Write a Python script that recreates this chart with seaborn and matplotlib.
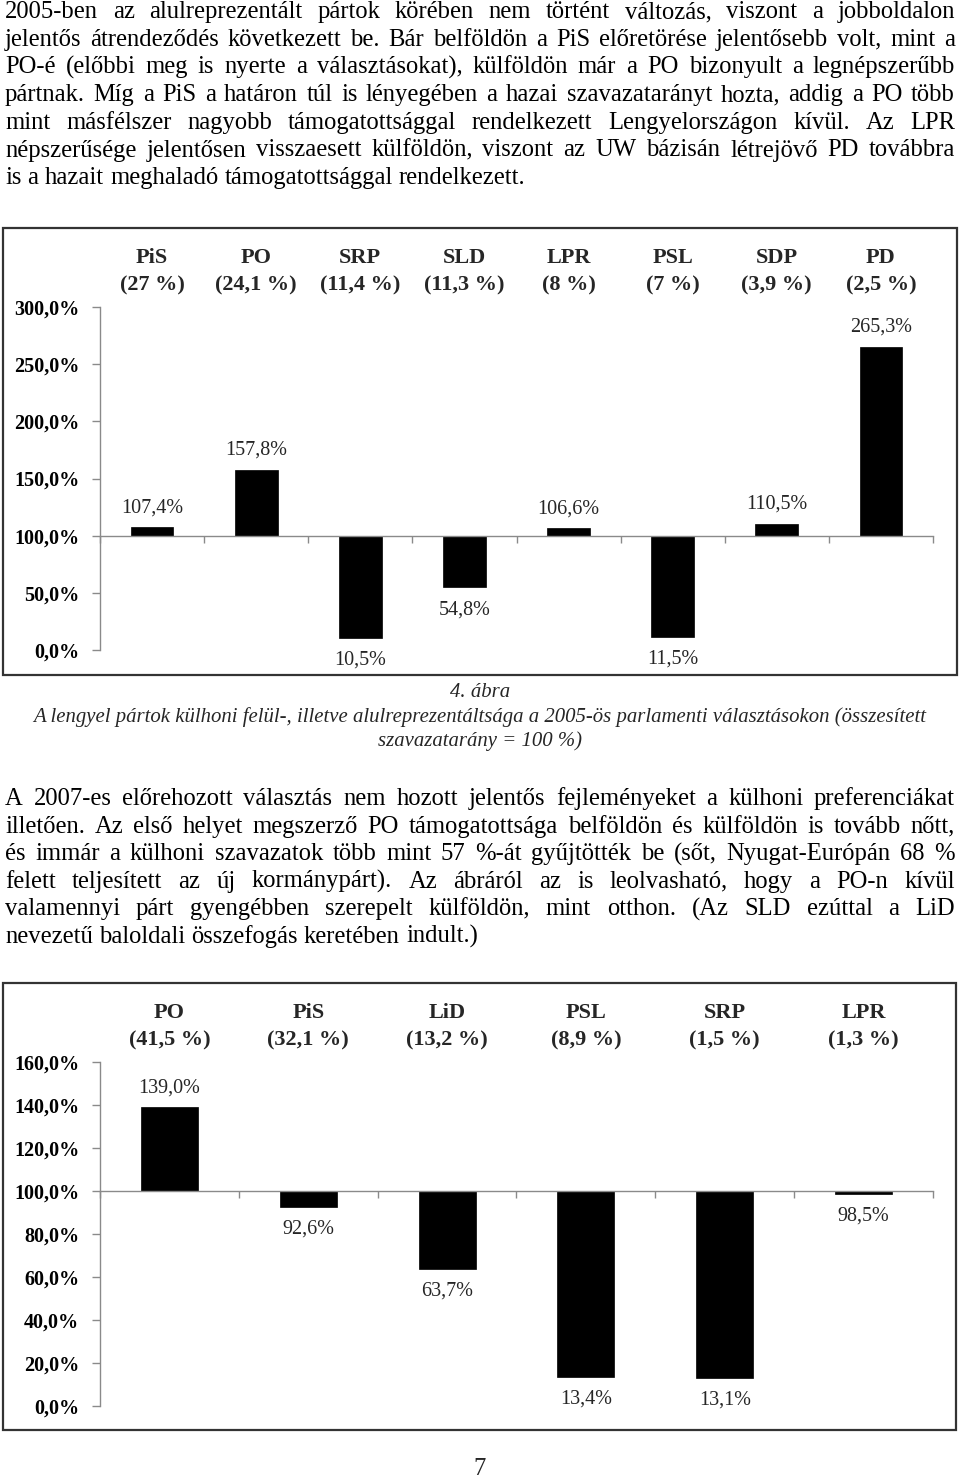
import numpy as np
import pandas as pd
import seaborn as sns
import matplotlib.pyplot as plt
from matplotlib.patches import Rectangle
from matplotlib.ticker import FuncFormatter

W, H = 960, 1480

# 2005 chart data
parties_2005 = ["PiS", "PO", "SRP", "SLD", "LPR", "PSL", "SDP", "PD"]
shares_2005 = ["27", "24,1", "11,4", "11,3", "8", "7", "3,9", "2,5"]
values_2005 = [107.4, 157.8, 10.5, 54.8, 106.6, 11.5, 110.5, 265.3]
yticks_2005 = [0, 50, 100, 150, 200, 250, 300]

# 2007 chart data
parties_2007 = ["PO", "PiS", "LiD", "PSL", "SRP", "LPR"]
shares_2007 = ["41,5", "32,1", "13,2", "8,9", "1,5", "1,3"]
values_2007 = [139.0, 92.6, 63.7, 13.4, 13.1, 98.5]
yticks_2007 = [0, 20, 40, 60, 80, 100, 120, 140, 160]

para1 = [
    "2005-ben az alulreprezentált pártok körében nem történt változás, viszont a jobboldalon",
    "jelentős átrendeződés következett be. Bár belföldön a PiS előretörése jelentősebb volt, mint a",
    "PO-é (előbbi meg is nyerte a választásokat), külföldön már a PO bizonyult a legnépszerűbb",
    "pártnak. Míg a PiS a határon túl is lényegében a hazai szavazatarányt hozta, addig a PO több",
    "mint másfélszer nagyobb támogatottsággal rendelkezett Lengyelországon kívül. Az LPR",
    "népszerűsége jelentősen visszaesett külföldön, viszont az UW bázisán létrejövő PD továbbra",
    "is a hazait meghaladó támogatottsággal rendelkezett.",
]
caption = [
    "4. ábra",
    "A lengyel pártok külhoni felül-, illetve alulreprezentáltsága a 2005-ös parlamenti választásokon (összesített",
    "szavazatarány = 100 %)",
]
para2 = [
    "A 2007-es előrehozott választás nem hozott jelentős fejleményeket a külhoni preferenciákat",
    "illetően. Az első helyet megszerző PO támogatottsága belföldön és külföldön is tovább nőtt,",
    "és immár a külhoni szavazatok  több mint 57 %-át gyűjtötték be (sőt, Nyugat-Európán 68 %",
    "felett teljesített az új kormánypárt). Az ábráról az is leolvasható, hogy a PO-n kívül",
    "valamennyi párt gyengébben szerepelt külföldön, mint otthon. (Az SLD ezúttal a LiD",
    "nevezetű baloldali összefogás keretében indult.)",
]

sns.set_theme(style="white")
plt.rcParams["font.family"] = "Liberation Serif"

fig = plt.figure(figsize=(9.6, 14.8), dpi=100)
r = fig.canvas.get_renderer()


def text_width(s, size, **kw):
    t = fig.text(0, 0, s, fontsize=size, **kw)
    w = t.get_window_extent(r).width
    t.remove()
    return w


def justified(lines, x0, x1, base0, step, size):
    space = size * 100 / 72 * 0.25
    for k, line in enumerate(lines):
        words = line.split()
        arts = [fig.text(0, 1 - (base0 + k * step) / H, w, fontsize=size,
                         va="baseline", ha="left", color="black") for w in words]
        widths = [a.get_window_extent(r).width for a in arts]
        if k == len(lines) - 1:
            gap = space
        else:
            gap = (x1 - x0 - sum(widths)) / (len(words) - 1)
        x = x0
        for a, w in zip(arts, widths):
            a.set_x(x / W)
            x += w + gap


# body text size fitted to the unjustified last lines
s1 = 10 * 520 / text_width(para1[-1], 10)
s2 = 10 * 475 / text_width(para2[-1], 10)
body = (s1 + s2) / 2

justified(para1, 5, 955, 18, 27.7, body)
justified(para2, 5, 955, 805, 27.6, body)

cap_size = 10 * 895 / text_width(caption[1], 10, style="italic")
for k, line in enumerate(caption):
    fig.text(0.5, 1 - (697 + k * 24.5) / H, line, fontsize=cap_size, style="italic",
             ha="center", va="baseline")

fig.text(0.5, 1 - 1475 / H, "7", fontsize=body, ha="center", va="baseline")

gray = "#8a8a8a"
pct = FuncFormatter(lambda v, p: f"{v:.1f}%".replace(".", ","))


def draw_chart(frame, rect, parties, shares, values, yticks):
    fx0, fy0, fx1, fy1 = frame
    fig.add_artist(Rectangle((fx0 / W, 1 - fy1 / H), (fx1 - fx0) / W, (fy1 - fy0) / H,
                             transform=fig.transFigure, fill=False, ec="#333333", lw=1.6))
    ax = fig.add_axes(rect)
    df = pd.DataFrame({"party": parties, "dev": [v - 100 for v in values]})
    sns.barplot(data=df, x="party", y="dev", bottom=100, color="black", saturation=1,
                width=0.41, errorbar=None, ax=ax, edgecolor="black", linewidth=0.5)
    n = len(parties)
    ax.set_xlim(-0.5, n - 0.5)
    ax.set_ylim(yticks[0], yticks[-1])
    ax.set_xlabel("")
    ax.set_ylabel("")
    ax.set_facecolor("none")
    for s in ["top", "right"]:
        ax.spines[s].set_visible(False)
    ax.spines["bottom"].set_position(("data", 100))
    ax.spines["bottom"].set_color(gray)
    ax.spines["left"].set_color(gray)
    ax.spines["bottom"].set_linewidth(1)
    ax.spines["left"].set_linewidth(1)

    ax.set_xticks(range(n))
    ax.set_xticklabels([f"{p}\n({s} %)" for p, s in zip(parties, shares)],
                       fontsize=16, fontweight="bold", linespacing=1.55)
    ax.set_xticks(np.arange(-0.5, n), minor=True)
    ax.tick_params(axis="x", which="major", bottom=False, top=False,
                   labelbottom=False, labeltop=True, pad=2)
    ax.tick_params(axis="x", which="minor", bottom=True, top=False, direction="out",
                   length=5, width=1, color=gray)

    ax.set_yticks(yticks)
    ax.yaxis.set_major_formatter(pct)
    ax.tick_params(axis="y", left=True, direction="out", length=6, width=1, color=gray,
                   labelsize=14.5, pad=9, labelcolor="black")
    plt.setp(ax.get_yticklabels(), fontweight="bold")

    for i, v in enumerate(values):
        off = 14 if v >= 100 else -16
        ax.annotate(f"{v:.1f}%".replace(".", ","), xy=(i, v), xytext=(0, off),
                    textcoords="offset points", ha="center", va="center", fontsize=14.5)
    return ax


draw_chart((3, 228, 957, 675), [100 / W, 1 - 650 / H, 833 / W, 343 / H],
           parties_2005, shares_2005, values_2005, yticks_2005)
draw_chart((3, 983, 956, 1430), [100 / W, 1 - 1406 / H, 833 / W, 344 / H],
           parties_2007, shares_2007, values_2007, yticks_2007)

fig.savefig("out.png", dpi=100)
plt.close()
